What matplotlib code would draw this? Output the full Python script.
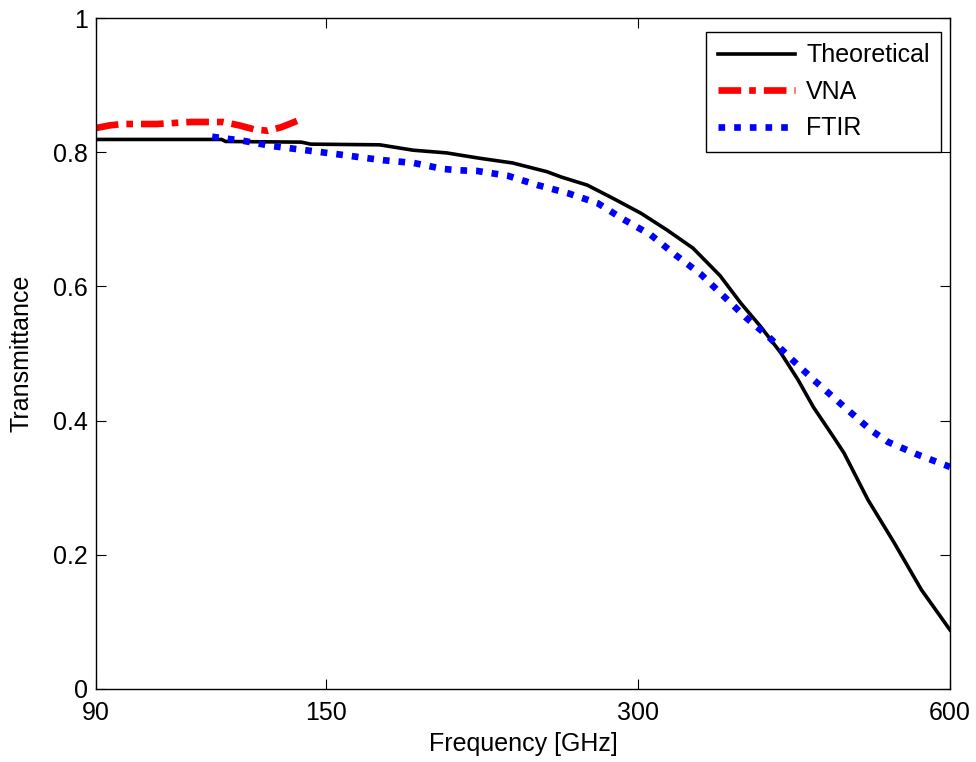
import matplotlib
matplotlib.use("Agg")
import matplotlib.pyplot as plt
from matplotlib.ticker import FixedLocator, NullLocator, FixedFormatter

plt.rcParams['font.family'] = ['Liberation Sans', 'DejaVu Sans']

theo_f = [90, 119, 120, 142, 145, 169, 182, 196, 211, 227, 245, 253, 268, 284, 302,
          320, 339, 360, 377, 394, 412, 428, 443, 463, 474, 500, 530, 563, 600]
theo_t = [0.819, 0.819, 0.816, 0.815, 0.812, 0.811, 0.803, 0.799, 0.791, 0.784,
          0.771, 0.763, 0.751, 0.731, 0.709, 0.684, 0.657, 0.616, 0.575, 0.540,
          0.501, 0.461, 0.420, 0.376, 0.352, 0.282, 0.218, 0.148, 0.088]

vna_f = [90, 92.8, 95.5, 103, 111, 119.4, 123.7, 127.9, 131.8, 135.7, 140.9]
vna_t = [0.836, 0.840, 0.842, 0.842, 0.845, 0.845, 0.840, 0.834, 0.832, 0.837, 0.847]

ftir_f = [116.5, 124.8, 133.4, 143.3, 153.8, 164.5, 170.5, 182.2, 194.7, 202, 210,
          224.5, 240, 256.6, 274.3, 290.4, 308.5, 326, 345, 362, 381, 401,
          421, 443, 466, 478, 503, 523, 559, 600]
ftir_t = [0.823, 0.817, 0.809, 0.803, 0.797, 0.791, 0.788, 0.784, 0.775, 0.773, 0.772,
          0.765, 0.751, 0.739, 0.724, 0.700, 0.677, 0.647, 0.618, 0.587, 0.554,
          0.525, 0.493, 0.461, 0.431, 0.416, 0.386, 0.368, 0.349, 0.331]

x_ticks = [90, 150, 300, 600]
y_ticks = [0, 0.2, 0.4, 0.6, 0.8, 1]

fig = plt.figure(figsize=(9.76, 7.62), dpi=100)
ax = fig.add_axes([96/976, 73/762, 854/976, 671/762])

ax.plot(theo_f, theo_t, color='black', lw=2.6, label='Theoretical')
ax.plot(vna_f, vna_t, color='#ff0000', lw=4.8, dashes=(3.4, 1.2, 1.0, 1.2),
        dash_capstyle='butt', label='VNA')
ax.plot(ftir_f, ftir_t, color='#0000ff', lw=4.8, dashes=(1.0, 1.35),
        dash_capstyle='butt', label='FTIR')

ax.set_xscale('log')
ax.set_xlim(90, 600)
ax.set_ylim(0, 1)
ax.xaxis.set_major_locator(FixedLocator(x_ticks))
ax.xaxis.set_major_formatter(FixedFormatter([str(v) for v in x_ticks]))
ax.xaxis.set_minor_locator(NullLocator())
ax.set_yticks(y_ticks)
ax.set_yticklabels(['0', '0.2', '0.4', '0.6', '0.8', '1'])

ax.tick_params(direction='in', length=7, width=0.8, top=True, right=True,
               labelsize=18)
ax.tick_params(axis='x', pad=9)
ax.tick_params(axis='y', pad=6)
for s in ax.spines.values():
    s.set_linewidth(1.0)

ax.set_xlabel('Frequency [GHz]', fontsize=18, labelpad=5)
ax.set_ylabel('Transmittance', fontsize=18, labelpad=14)

leg = ax.legend(loc='upper right', bbox_to_anchor=((941 - 96) / 854, (689 - 32) / 671),
                borderaxespad=0, fontsize=18,
                handlelength=3.1, handletextpad=0.45, borderpad=0.45,
                labelspacing=0.5, fancybox=False, framealpha=1, edgecolor='black')
leg.get_frame().set_linewidth(1.0)

fig.savefig('out.png', dpi=100)
